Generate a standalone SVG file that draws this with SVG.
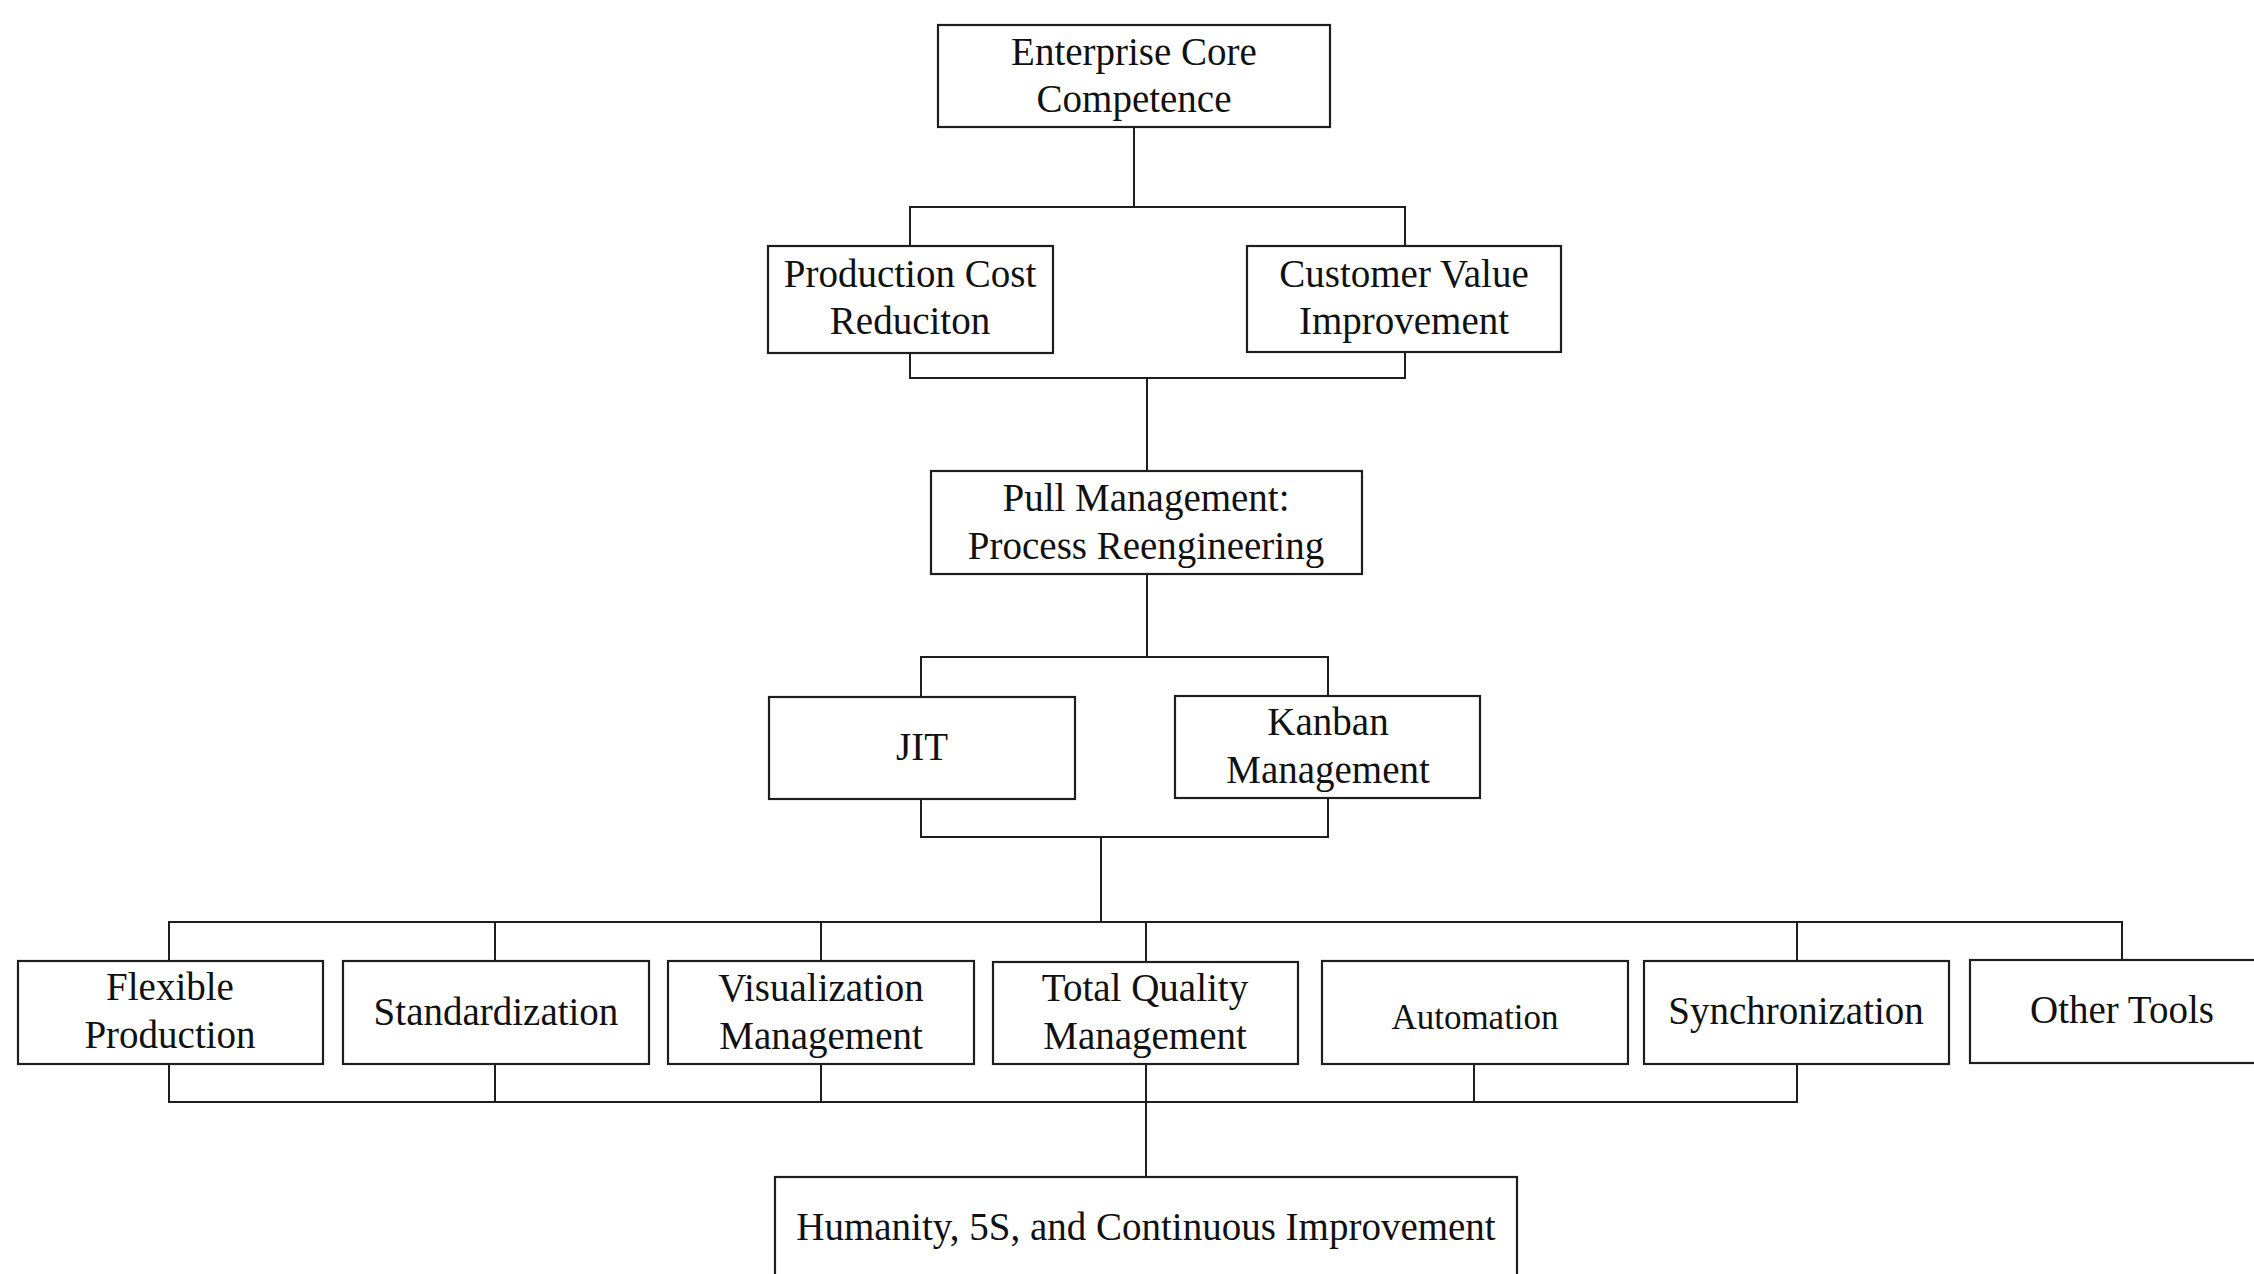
<svg xmlns="http://www.w3.org/2000/svg" width="2254" height="1274" viewBox="0 0 2254 1274">
<style>
  .box { fill: #ffffff; stroke: #1e1e1e; stroke-width: 2.2; }
  .lbl { font-family: "Liberation Serif", "Times New Roman", serif; font-size: 39px; fill: #111111; text-anchor: middle; }
  .small { font-size: 35px; }
  .conn { fill: none; stroke: #1e1e1e; stroke-width: 2; }
</style>
<rect width="2254" height="1274" fill="#ffffff"/>

<g id="connectors" class="conn">
  <!-- Enterprise to level 2 -->
  <path d="M1134 127 V207"/>
  <path d="M910 247 V207 H1405 V247"/>
  <!-- level 2 to Pull -->
  <path d="M910 353 V378 H1405 V352"/>
  <path d="M1147 378 V471"/>
  <!-- Pull to JIT/Kanban -->
  <path d="M1147 574 V657"/>
  <path d="M921 697 V657 H1328 V696"/>
  <!-- JIT/Kanban to tools -->
  <path d="M921 799 V837 H1328 V798"/>
  <path d="M1101 837 V922"/>
  <path d="M169 961 V922 H2122 V960"/>
  <path d="M495 922 V961"/>
  <path d="M821 922 V961"/>
  <path d="M1146 922 V962"/>
  <path d="M1797 922 V961"/>
  <!-- tools to Humanity -->
  <path d="M169 1064 V1102 H1797 V1064"/>
  <path d="M495 1064 V1102"/>
  <path d="M821 1064 V1102"/>
  <path d="M1146 1064 V1177"/>
  <path d="M1474 1064 V1102"/>
</g>

<g id="node-enterprise">
  <rect class="box" x="938" y="25" width="392" height="102"/>
  <text class="lbl" x="1134" y="65">Enterprise Core</text>
  <text class="lbl" x="1134" y="112">Competence</text>
</g>

<g id="node-production-cost">
  <rect class="box" x="768" y="246" width="285" height="107"/>
  <text class="lbl" x="910" y="287">Production Cost</text>
  <text class="lbl" x="910" y="334">Reduciton</text>
</g>

<g id="node-customer-value">
  <rect class="box" x="1247" y="246" width="314" height="106"/>
  <text class="lbl" x="1404" y="287">Customer Value</text>
  <text class="lbl" x="1404" y="334">Improvement</text>
</g>

<g id="node-pull">
  <rect class="box" x="931" y="471" width="431" height="103"/>
  <text class="lbl" x="1146" y="511">Pull Management:</text>
  <text class="lbl" x="1146" y="559">Process Reengineering</text>
</g>

<g id="node-jit">
  <rect class="box" x="769" y="697" width="306" height="102"/>
  <text class="lbl" x="922" y="760">JIT</text>
</g>

<g id="node-kanban">
  <rect class="box" x="1175" y="696" width="305" height="102"/>
  <text class="lbl" x="1328" y="735">Kanban</text>
  <text class="lbl" x="1328" y="783">Management</text>
</g>

<g id="node-flexible">
  <rect class="box" x="18" y="961" width="305" height="103"/>
  <text class="lbl" x="170" y="1000">Flexible</text>
  <text class="lbl" x="170" y="1048">Production</text>
</g>

<g id="node-standardization">
  <rect class="box" x="343" y="961" width="306" height="103"/>
  <text class="lbl" x="496" y="1025">Standardization</text>
</g>

<g id="node-visualization">
  <rect class="box" x="668" y="961" width="306" height="103"/>
  <text class="lbl" x="821" y="1001">Visualization</text>
  <text class="lbl" x="821" y="1049">Management</text>
</g>

<g id="node-tqm">
  <rect class="box" x="993" y="962" width="305" height="102"/>
  <text class="lbl" x="1145" y="1001">Total Quality</text>
  <text class="lbl" x="1145" y="1049">Management</text>
</g>

<g id="node-automation">
  <rect class="box" x="1322" y="961" width="306" height="103"/>
  <text class="lbl small" x="1475" y="1029">Automation</text>
</g>

<g id="node-synchronization">
  <rect class="box" x="1644" y="961" width="305" height="103"/>
  <text class="lbl" x="1796" y="1024">Synchronization</text>
</g>

<g id="node-other-tools">
  <rect class="box" x="1970" y="960" width="305" height="103"/>
  <text class="lbl" x="2122" y="1023">Other Tools</text>
</g>

<g id="node-humanity">
  <rect class="box" x="775" y="1177" width="742" height="120"/>
  <text class="lbl" x="1146" y="1240">Humanity, 5S, and Continuous Improvement</text>
</g>
</svg>
